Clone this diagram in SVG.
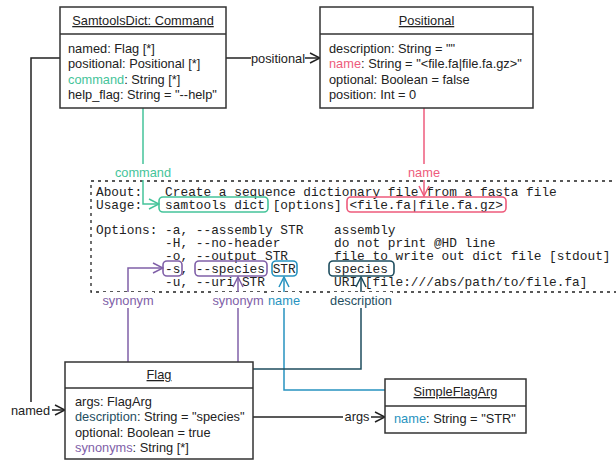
<svg xmlns="http://www.w3.org/2000/svg" width="616" height="461" viewBox="0 0 616 461">
  <style>
    .box { fill: #fff; stroke: #333; stroke-width: 1.5; }
    .div { stroke: #333; stroke-width: 1.5; }
    .t { font-family: "Liberation Sans", Arial, sans-serif; font-size: 12.8px; fill: #222; }
    .title { text-anchor: middle; text-decoration: underline; }
    .mono { font-family: "Liberation Mono", "Courier New", monospace; font-size: 12.8px; fill: #222; }
    .lbl { font-family: "Liberation Sans", Arial, sans-serif; font-size: 12.8px; text-anchor: middle; }
    .edge { fill: none; stroke-width: 1.5; }
    .hl { fill: none; stroke-width: 1.6; }
    .green { stroke: #45c49a; } .tgreen { fill: #45c49a; }
    .pink { stroke: #ee5b7c; } .tpink { fill: #ee5b7c; }
    .purple { stroke: #8060a8; } .tpurple { fill: #8060a8; }
    .blue { stroke: #2793c0; } .tblue { fill: #2793c0; }
    .teal { stroke: #1f4e5f; } .tteal { fill: #1f4e5f; }
    .black { stroke: #222; } .tblack { fill: #222; }
  </style>
  <defs>
    <marker id="open-black" viewBox="0 0 12 12" refX="11" refY="6" markerWidth="12" markerHeight="12" markerUnits="userSpaceOnUse" orient="auto">
      <path d="M1,1 L11,6 L1,11" fill="none" stroke="#222" stroke-width="1.5"/>
    </marker>
    <marker id="open-green" viewBox="0 0 12 12" refX="11" refY="6" markerWidth="12" markerHeight="12" markerUnits="userSpaceOnUse" orient="auto">
      <path d="M1,1 L11,6 L1,11" fill="none" stroke="#45c49a" stroke-width="1.5"/>
    </marker>
    <marker id="open-pink" viewBox="0 0 12 12" refX="11" refY="6" markerWidth="12" markerHeight="12" markerUnits="userSpaceOnUse" orient="auto">
      <path d="M1,1 L11,6 L1,11" fill="none" stroke="#ee5b7c" stroke-width="1.5"/>
    </marker>
    <marker id="open-purple" viewBox="0 0 12 12" refX="11" refY="6" markerWidth="12" markerHeight="12" markerUnits="userSpaceOnUse" orient="auto">
      <path d="M1,1 L11,6 L1,11" fill="none" stroke="#8060a8" stroke-width="1.5"/>
    </marker>
    <marker id="open-blue" viewBox="0 0 12 12" refX="11" refY="6" markerWidth="12" markerHeight="12" markerUnits="userSpaceOnUse" orient="auto">
      <path d="M1,1 L11,6 L1,11" fill="none" stroke="#2793c0" stroke-width="1.5"/>
    </marker>
    <marker id="open-teal" viewBox="0 0 12 12" refX="11" refY="6" markerWidth="12" markerHeight="12" markerUnits="userSpaceOnUse" orient="auto">
      <path d="M1,1 L11,6 L1,11" fill="none" stroke="#1f4e5f" stroke-width="1.5"/>
    </marker>
  </defs>

  <rect width="616" height="461" fill="#fff"/>

  <!-- help text panel -->
  <g id="help-text">
    <rect x="91" y="181" width="540" height="111" fill="none" stroke="#222" stroke-width="1.3" stroke-dasharray="3,4"/>
    <text class="mono" xml:space="preserve"><tspan x="96" y="196">About:   Create a sequence dictionary file from a fasta file</tspan><tspan x="96" y="208.8">Usage:   samtools dict [options] &lt;file.fa|file.fa.gz&gt;</tspan><tspan x="96" y="234.4">Options: -a, --assembly STR    assembly</tspan><tspan x="96" y="247.2">         -H, --no-header       do not print @HD line</tspan><tspan x="96" y="260">         -o, --output STR      file to write out dict file [stdout]</tspan><tspan x="96" y="272.8">         -s, --species STR     species</tspan><tspan x="96" y="285.6">         -u, --uri STR         URI [file:///abs/path/to/file.fa]</tspan></text>
    <!-- highlighted tokens -->
    <rect class="hl green" x="159" y="197" width="109" height="15" rx="4"/>
    <rect class="hl pink" x="347" y="197" width="159" height="15" rx="4"/>
    <rect class="hl purple" x="163" y="261" width="19" height="15" rx="4"/>
    <rect class="hl purple" x="195" y="261" width="72" height="15" rx="4"/>
    <rect class="hl blue" x="272" y="261" width="25" height="15" rx="4"/>
    <rect class="hl teal" x="329" y="261" width="65" height="15" rx="4"/>
  </g>

  <!-- connectors -->
  <g id="connectors">
    <path class="edge black" d="M60,58 H31 V410 H65" marker-end="url(#open-black)"/>
    <path class="edge black" d="M226,58 H320" marker-end="url(#open-black)"/>
    <path class="edge black" d="M253,417 H385" marker-end="url(#open-black)"/>
    <path class="edge green" d="M143,108 V204 H159" marker-end="url(#open-green)"/>
    <path class="edge pink" d="M424,108 V196" marker-end="url(#open-pink)"/>
    <path class="edge purple" d="M128,362 V268 H163" marker-end="url(#open-purple)"/>
    <path class="edge purple" d="M238,362 V277" marker-end="url(#open-purple)"/>
    <path class="edge blue" d="M385,390 H284 V277" marker-end="url(#open-blue)"/>
    <path class="edge teal" d="M253,369 H361 V277" marker-end="url(#open-teal)"/>

    <!-- edge labels -->
    <rect x="9" y="402" width="43" height="16" fill="#fff"/>
    <text class="lbl tblack" x="30.5" y="414.5">named</text>
    <rect x="251" y="50" width="54" height="16" fill="#fff"/>
    <text class="lbl tblack" x="278" y="62.5">positional</text>
    <rect x="343" y="409" width="28" height="16" fill="#fff"/>
    <text class="lbl tblack" x="357" y="421">args</text>
    <rect x="114" y="164" width="58" height="16" fill="#fff"/>
    <text class="lbl tgreen" x="143" y="176.5">command</text>
    <rect x="408" y="164" width="32" height="16" fill="#fff"/>
    <text class="lbl tpink" x="424" y="176.5">name</text>
    <rect x="102" y="292" width="52" height="16" fill="#fff"/>
    <text class="lbl tpurple" x="128" y="304.5">synonym</text>
    <rect x="212" y="292" width="52" height="16" fill="#fff"/>
    <text class="lbl tpurple" x="238" y="304.5">synonym</text>
    <rect x="268" y="292" width="32" height="16" fill="#fff"/>
    <text class="lbl tblue" x="284" y="304.5">name</text>
    <rect x="330" y="292" width="62" height="16" fill="#fff"/>
    <text class="lbl tteal" x="361" y="304.5">description</text>
  </g>

  <g id="samtools-dict">
    <rect class="box" x="60" y="7" width="166" height="101"/>
    <line class="div" x1="60" y1="34" x2="226" y2="34"/>
    <text class="t title" x="143" y="25">SamtoolsDict: Command</text>
    <text class="t" x="68" y="52.5">named: Flag [*]</text>
    <text class="t" x="68" y="68">positional: Positional [*]</text>
    <text class="t" x="68" y="83.5"><tspan class="tgreen">command</tspan>: String [*]</text>
    <text class="t" x="68" y="99">help_flag: String = "--help"</text>
  </g>

  <g id="positional">
    <rect class="box" x="320" y="7" width="213" height="101"/>
    <line class="div" x1="320" y1="34" x2="533" y2="34"/>
    <text class="t title" x="426.5" y="25">Positional</text>
    <text class="t" x="329" y="52.5">description: String = ""</text>
    <text class="t" x="329" y="68"><tspan class="tpink">name</tspan>: String = "&lt;file.fa|file.fa.gz&gt;"</text>
    <text class="t" x="329" y="83.5">optional: Boolean = false</text>
    <text class="t" x="329" y="99">position: Int = 0</text>
  </g>

  <g id="flag">
    <rect class="box" x="65" y="362" width="188" height="97"/>
    <line class="div" x1="65" y1="388" x2="253" y2="388"/>
    <text class="t title" x="159" y="379">Flag</text>
    <text class="t" x="75" y="405.5">args: FlagArg</text>
    <text class="t" x="75" y="421"><tspan class="tteal">description</tspan>: String = "species"</text>
    <text class="t" x="75" y="436.5">optional: Boolean = true</text>
    <text class="t" x="75" y="452"><tspan class="tpurple">synonyms</tspan>: String [*]</text>
  </g>

  <g id="simple-flag-arg">
    <rect class="box" x="385" y="379" width="141" height="54"/>
    <line class="div" x1="385" y1="406" x2="526" y2="406"/>
    <text class="t title" x="455.5" y="396">SimpleFlagArg</text>
    <text class="t" x="394" y="423"><tspan class="tblue">name</tspan>: String = "STR"</text>
  </g>
</svg>
